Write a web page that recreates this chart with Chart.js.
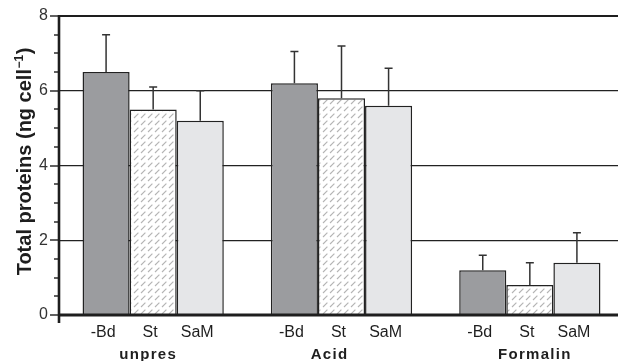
<!DOCTYPE html>
<html>
<head>
<meta charset="utf-8">
<script src="https://cdn.jsdelivr.net/npm/chart.js@4"></script>
<style>
html,body{margin:0;padding:0;background:#fff;}
#wrap{width:618px;height:361px;overflow:hidden;position:relative;}
canvas{display:block;}
</style>
</head>
<body>
<div id="wrap"><canvas id="c" width="624" height="361"></canvas></div>
<script>
// ---- data ----
const groups = ['unpres', 'Acid', 'Formalin'];
const seriesNames = ['-Bd', 'St', 'SaM'];
const bdValues = [6.5, 6.2, 1.2];
const bdErrors = [1.0, 0.85, 0.4];
const stValues = [5.5, 5.8, 0.8];
const stErrors = [0.6, 1.4, 0.6];
const samValues = [5.2, 5.6, 1.4];
const samErrors = [0.8, 1.0, 0.8];
const yTicks = [0, 2, 4, 6, 8];
const yTitle = 'Total proteins (ng cell';
const yTitleSup = '\u22121';
const yTitleEnd = ')';

const FONT = '"Liberation Sans", Arial, Helvetica, sans-serif';
const INK = '#1e1e1e';

function hatch() {
  const c = document.createElement('canvas');
  c.width = 7; c.height = 7;
  const g = c.getContext('2d');
  g.fillStyle = '#ffffff';
  g.fillRect(0, 0, 7, 7);
  g.strokeStyle = '#b4b4b4';
  g.lineWidth = 1.1;
  g.beginPath();
  g.moveTo(1.0, 6.0);
  g.lineTo(5.4, 1.6);
  g.stroke();
  return g.createPattern(c, 'repeat');
}

const errorSets = [bdErrors, stErrors, samErrors];

const decor = {
  id: 'decor',
  afterDatasetsDraw(chart) {
    const ctx = chart.ctx;
    const ys = chart.scales.y;
    ctx.save();
    ctx.strokeStyle = '#333';
    ctx.lineWidth = 1.5;
    chart.data.datasets.forEach((ds, i) => {
      const meta = chart.getDatasetMeta(i);
      meta.data.forEach((el, j) => {
        const top = ys.getPixelForValue(ds.data[j]);
        const e = ys.getPixelForValue(ds.data[j] + errorSets[i][j]);
        ctx.beginPath();
        ctx.moveTo(el.x, top);
        ctx.lineTo(el.x, e);
        ctx.moveTo(el.x - 4, e);
        ctx.lineTo(el.x + 4, e);
        ctx.stroke();
      });
    });
    ctx.restore();
  },
  afterDraw(chart) {
    const ctx = chart.ctx;
    const a = chart.chartArea;
    const ys = chart.scales.y;
    const xs = chart.scales.x;
    ctx.save();
    ctx.strokeStyle = INK;
    // top frame line
    ctx.lineWidth = 2.2;
    ctx.beginPath(); ctx.moveTo(a.left, a.top); ctx.lineTo(a.right, a.top); ctx.stroke();
    // bottom axis
    ctx.lineWidth = 3;
    ctx.beginPath(); ctx.moveTo(a.left - 1, a.bottom); ctx.lineTo(a.right, a.bottom); ctx.stroke();
    // left axis
    ctx.lineWidth = 2.6;
    ctx.beginPath(); ctx.moveTo(a.left, a.top - 1); ctx.lineTo(a.left, a.bottom + 8); ctx.stroke();
    // ticks
    ctx.lineWidth = 1.4;
    for (let v = ys.min; v <= ys.max + 1e-9; v += 0.5) {
      const y = Math.round(ys.getPixelForValue(v));
      const major = yTicks.includes(v);
      ctx.beginPath();
      ctx.moveTo(a.left - (major ? 9 : 5), y);
      ctx.lineTo(a.left, y);
      ctx.stroke();
    }
    // bar labels
    ctx.fillStyle = INK;
    ctx.textAlign = 'center';
    ctx.textBaseline = 'alphabetic';
    ctx.font = '16px ' + FONT;
    chart.data.datasets.forEach((ds, i) => {
      chart.getDatasetMeta(i).data.forEach((el) => {
        ctx.fillText(seriesNames[i], el.x - 3, a.bottom + 22);
      });
    });
    // group labels
    ctx.font = 'bold 15px ' + FONT;
    ctx.letterSpacing = '1.3px';
    const nudge = [-5, -12, 5];
    groups.forEach((g, k) => {
      ctx.fillText(g, xs.getPixelForValue(k) + nudge[k], a.bottom + 44);
    });
    ctx.letterSpacing = '0px';
    // y title
    ctx.textAlign = 'left';
    ctx.font = 'bold 20px ' + FONT;
    const w1 = ctx.measureText(yTitle).width;
    const w3 = ctx.measureText(yTitleEnd).width;
    ctx.font = 'bold 12px ' + FONT;
    const w2 = ctx.measureText(yTitleSup).width;
    const total = w1 + w2 + 1 + w3;
    ctx.translate(31, (a.top + a.bottom) / 2 - 4);
    ctx.rotate(-Math.PI / 2);
    let x0 = -total / 2;
    ctx.font = 'bold 20px ' + FONT;
    ctx.fillText(yTitle, x0, 0);
    ctx.font = 'bold 12px ' + FONT;
    ctx.fillText(yTitleSup, x0 + w1 + 0.5, -8);
    ctx.font = 'bold 20px ' + FONT;
    ctx.fillText(yTitleEnd, x0 + w1 + w2 + 1, 0);
    ctx.restore();
  }
};

new Chart(document.getElementById('c'), {
  type: 'bar',
  data: {
    labels: groups,
    datasets: [
      { label: seriesNames[0], data: bdValues, backgroundColor: '#9b9c9f' },
      { label: seriesNames[1], data: stValues, backgroundColor: hatch() },
      { label: seriesNames[2], data: samValues, backgroundColor: '#e5e6e8' }
    ]
  },
  options: {
    responsive: false,
    devicePixelRatio: 1,
    animation: false,
    layout: { padding: { top: 16, left: 0, right: 0, bottom: 0 } },
    datasets: {
      bar: {
        borderColor: '#222',
        borderWidth: 1.5,
        categoryPercentage: 0.75,
        barPercentage: 1.0
      }
    },
    plugins: { legend: { display: false }, tooltip: { enabled: false } },
    scales: {
      x: {
        type: 'category',
        offset: true,
        grid: { display: false },
        border: { display: false },
        ticks: { display: false },
        afterFit(s) { s.height = 46; s.paddingLeft = 0; s.paddingRight = 0; }
      },
      y: {
        min: 0,
        max: 8,
        afterBuildTicks(s) { s.ticks = yTicks.map(v => ({ value: v })); },
        grid: {
          drawTicks: false,
          lineWidth: 1.2,
          color: (c) => (c.tick && c.tick.value > 0 && c.tick.value < 8) ? '#222' : 'rgba(0,0,0,0)'
        },
        border: { display: false },
        ticks: {
          padding: 11,
          color: '#333',
          font: { size: 16, family: FONT }
        },
        afterFit(s) { s.width = 59; s.paddingTop = 0; s.paddingBottom = 0; }
      }
    }
  },
  plugins: [decor]
});
</script>
</body>
</html>
